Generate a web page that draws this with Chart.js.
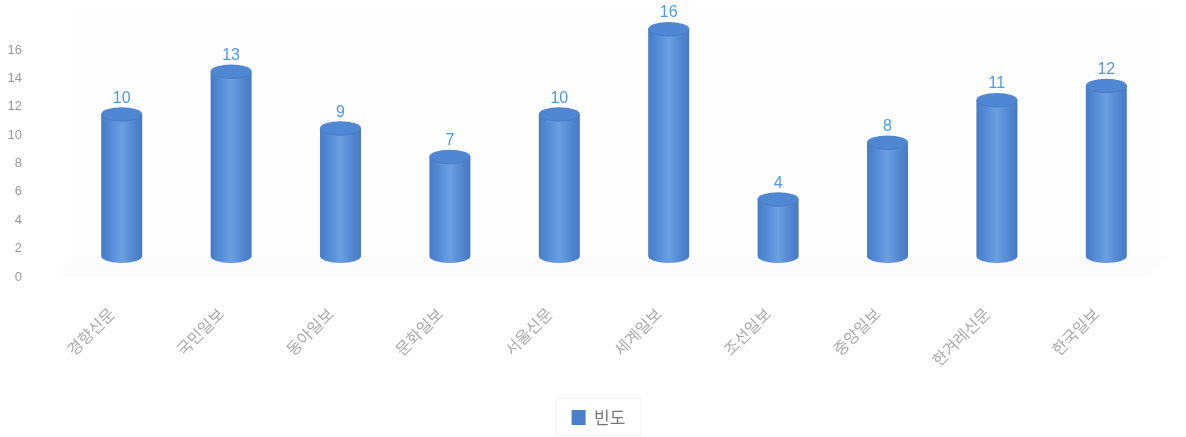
<!DOCTYPE html>
<html>
<head>
<meta charset="utf-8">
<script src="https://cdn.jsdelivr.net/npm/chart.js@4/dist/chart.umd.min.js"></script>
<style>
  html, body { margin: 0; padding: 0; background: #fff; }
  canvas { display: block; filter: blur(0.6px); }
</style>
</head>
<body>
<canvas id="freqChart" width="1186" height="437"></canvas>
<script>
const categories = ['경향신문', '국민일보', '동아일보', '문화일보', '서울신문', '세계일보', '조선일보', '중앙일보', '한겨레신문', '한국일보'];
const frequency = [10, 13, 9, 7, 10, 16, 4, 8, 11, 12];
const seriesName = '빈도';
const yTicks = [0, 2, 4, 6, 8, 10, 12, 14, 16];

const KR_FONT = '"Noto Sans CJK KR", "Liberation Sans", sans-serif';
const CAP_RY = 7;
const DEPTH = 21;
const LEGEND_SHIFT = 18;

// faint floor and back wall behind the bars
const floorPlugin = {
    id: 'floor',
    beforeDatasetsDraw(chart) {
        const { ctx, chartArea: a } = chart;
        ctx.save();
        ctx.fillStyle = '#fefefe';
        ctx.fillRect(a.left + 5, 5, a.width - 5, a.bottom - 5);
        ctx.fillStyle = '#fcfcfc';
        ctx.beginPath();
        ctx.moveTo(a.left - 15, a.bottom + DEPTH);
        ctx.lineTo(a.right - 12, a.bottom + DEPTH);
        ctx.lineTo(a.right + 8, a.bottom);
        ctx.lineTo(a.left + 5, a.bottom);
        ctx.closePath();
        ctx.fill();
        ctx.restore();
    }
};

// bars are drawn as cylinders on top of the (transparent) bar elements
const cylinderPlugin = {
    id: 'cylinder',
    afterDatasetsDraw(chart) {
        const { ctx } = chart;
        const meta = chart.getDatasetMeta(0);
        meta.data.forEach((bar, i) => {
            const left = bar.x - bar.width / 2;
            const right = bar.x + bar.width / 2;
            const rx = bar.width / 2;

            const grad = ctx.createLinearGradient(left, 0, right, 0);
            grad.addColorStop(0, '#4a7dc4');
            grad.addColorStop(0.15, '#4e86d2');
            grad.addColorStop(0.5, '#6a9fe2');
            grad.addColorStop(0.85, '#4d83ce');
            grad.addColorStop(1, '#4a7abf');

            ctx.save();
            ctx.fillStyle = grad;
            ctx.beginPath();
            ctx.moveTo(left, bar.y);
            ctx.lineTo(left, bar.base);
            ctx.ellipse(bar.x, bar.base, rx, CAP_RY, 0, Math.PI, 0, true);
            ctx.lineTo(right, bar.y);
            ctx.closePath();
            ctx.fill();

            // top cap
            ctx.fillStyle = '#5087d2';
            ctx.strokeStyle = '#4a7dc4';
            ctx.lineWidth = 1;
            ctx.beginPath();
            ctx.ellipse(bar.x, bar.y, rx, CAP_RY, 0, 0, Math.PI * 2);
            ctx.fill();
            ctx.beginPath();
            ctx.ellipse(bar.x, bar.y, rx - 1, CAP_RY, 0, 0, Math.PI);
            ctx.stroke();

            // value label
            ctx.fillStyle = '#4f9be0';
            ctx.font = '16px "Liberation Sans Narrow", "Liberation Sans", sans-serif';
            ctx.textAlign = 'center';
            ctx.textBaseline = 'middle';
            ctx.fillText(frequency[i], bar.x, bar.y - CAP_RY - 9);
            ctx.restore();
        });
    }
};

// legend sits a bit right of the plot centre and has a thin border
const legendBoxPlugin = {
    id: 'legendBox',
    afterLayout(chart) {
        const { legend } = chart;
        legend.left += LEGEND_SHIFT * 2;
        legend.legendHitBoxes[0].left += LEGEND_SHIFT;
    },
    afterDraw(chart) {
        const { ctx, legend } = chart;
        const hit = legend.legendHitBoxes[0];
        ctx.save();
        ctx.strokeStyle = '#f2f2f2';
        ctx.lineWidth = 1;
        ctx.strokeRect(Math.round(hit.left) - 15.5, legend.top + 0.5, hit.width + 30, legend.height - 1);
        ctx.restore();
    }
};

new Chart(document.getElementById('freqChart').getContext('2d'), {
    type: 'bar',
    data: {
        labels: categories,
        datasets: [{
            label: seriesName,
            data: frequency,
            backgroundColor: 'rgba(0,0,0,0)',
            barPercentage: 0.75,
            categoryPercentage: 0.5
        }]
    },
    options: {
        responsive: false,
        animation: false,
        layout: { padding: { top: 29, right: 25, bottom: 1, left: 0 } },
        plugins: {
            title: { display: false },
            tooltip: { enabled: false },
            legend: {
                position: 'bottom',
                onClick: null,
                labels: {
                    generateLabels: () => [{
                        text: seriesName,
                        fillStyle: '#4a7fc9',
                        strokeStyle: '#4a7fc9',
                        lineWidth: 0,
                        fontColor: '#777'
                    }],
                    boxWidth: 14,
                    boxHeight: 15,
                    padding: 11,
                    font: { family: KR_FONT, size: 17 }
                }
            }
        },
        scales: {
            x: {
                grid: { display: false },
                border: { display: false },
                afterFit(scale) { scale.height = 142; },
                ticks: {
                    autoSkip: false,
                    maxRotation: 45,
                    minRotation: 45,
                    padding: 40,
                    labelOffset: -10,
                    color: '#aaa',
                    font: { family: KR_FONT, size: 16 }
                }
            },
            y: {
                min: 0,
                max: 16,
                grid: { display: false },
                border: { display: false },
                afterFit(scale) {
                    scale.width = 67;
                    scale.paddingTop = 0;
                    scale.paddingBottom = 0;
                },
                afterBuildTicks(scale) { scale.ticks = yTicks.map(v => ({ value: v })); },
                ticks: {
                    padding: 37,
                    labelOffset: DEPTH,
                    color: '#999',
                    font: { family: '"Liberation Sans", sans-serif', size: 13 }
                }
            }
        }
    },
    plugins: [floorPlugin, cylinderPlugin, legendBoxPlugin]
});
</script>
</body>
</html>
